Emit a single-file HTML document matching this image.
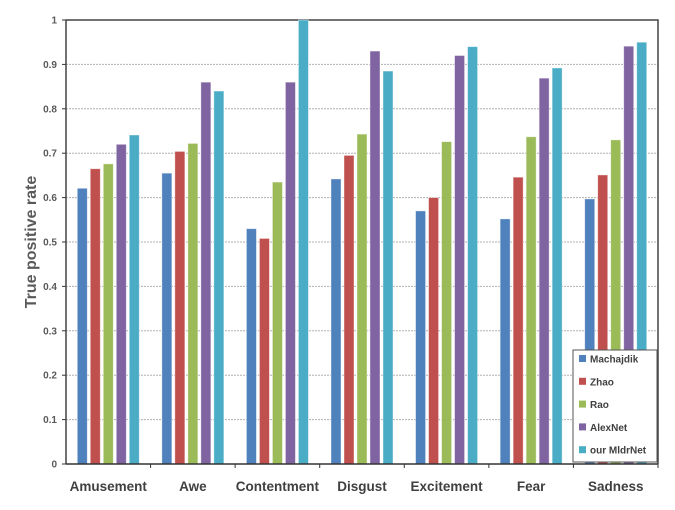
<!DOCTYPE html>
<html><head><meta charset="utf-8"><style>
body{margin:0;background:#fff;}
svg{display:block;font-family:"Liberation Sans",sans-serif;}
</style></head><body>
<svg id="chart" width="675" height="510" viewBox="0 0 675 510"></svg>
<script>
const categories=["Amusement","Awe","Contentment","Disgust","Excitement","Fear","Sadness"];
const seriesNames=["Machajdik","Zhao","Rao","AlexNet","our MldrNet"];
const machajdik=[0.621,0.655,0.530,0.642,0.570,0.552,0.597];
const zhao=[0.665,0.704,0.508,0.695,0.600,0.646,0.651];
const rao=[0.676,0.722,0.635,0.743,0.726,0.737,0.730];
const alexnet=[0.720,0.860,0.860,0.930,0.920,0.869,0.941];
const mldrnet=[0.741,0.840,1.000,0.885,0.940,0.892,0.950];
const yTicks=[0,0.1,0.2,0.3,0.4,0.5,0.6,0.7,0.8,0.9,1];
const yTickLabels=["0","0.1","0.2","0.3","0.4","0.5","0.6","0.7","0.8","0.9","1"];

const series=[machajdik,zhao,rao,alexnet,mldrnet];
const colors=["#4f81bd","#c0504d","#9bbb59","#8064a2","#4bacc6"];
const NS="http://www.w3.org/2000/svg";
const svg=document.getElementById("chart");
const L=66,R=658,T=20,B=464;
const y=v=>B-(v-0)/(1-0)*(B-T);
const gw=(R-L)/categories.length;
const x=i=>L+gw*(i+0.5);
function mk(tag,attrs,parent){const e=document.createElementNS(NS,tag);for(const k in attrs)e.setAttribute(k,attrs[k]);(parent||svg).appendChild(e);return e;}

yTicks.forEach((t,i)=>{
  if(t>0&&t<1){const g=mk("line",{x1:L,x2:R,y1:y(t),y2:y(t),stroke:"#b0b0b0","stroke-dasharray":"2,1"});
  
  }
  const tk=mk("line",{x1:L-4,x2:L,y1:y(t),y2:y(t),stroke:"#333"});
  
  
  const lb=mk("text",{x:L-9,y:y(t)+3.5,"text-anchor":"end","font-size":"10","font-weight":"bold",fill:"#595959"});
  lb.textContent=yTickLabels[i];
  
  
});
const frame=mk("path",{d:`M${L},${B}V${T}H${R}V${B}`,fill:"none",stroke:"#444","stroke-width":"1.5"});



const bw=10,pitch=13;
categories.forEach((c,i)=>{
  series.forEach((s,j)=>{
    const bx=x(i)+(j-2)*pitch-bw/2;
    const r=mk("rect",{x:bx,y:y(s[i]),width:bw,height:B-y(s[i]),fill:colors[j],stroke:"#fff","stroke-opacity":"0.5","stroke-width":"0.8"});
    
    
  });
  const tk=mk("line",{x1:L+gw*(i+1),x2:L+gw*(i+1),y1:B,y2:B+4,stroke:"#333"});
  
  
  const lb=mk("text",{x:x(i),y:491,"text-anchor":"middle","font-size":"13.5","font-weight":"bold",fill:"#404040"});
  lb.textContent=c;
  
  
});
const xa=mk("line",{x1:L,x2:R,y1:B,y2:B,stroke:"#333","stroke-width":"1.5"});



const yt=mk("text",{x:36,y:242,"text-anchor":"middle","font-size":"16","font-weight":"bold",fill:"#595959",transform:"rotate(-90 36 242)"});
yt.textContent="True positive rate";



const lg=mk("g",{});


const lbx=mk("rect",{x:573,y:350,width:84,height:112,fill:"#fff",stroke:"#555"},lg);


seriesNames.forEach((n,j)=>{
  const yy=359+j*22.8;
  const sw=mk("rect",{x:579,y:yy-4,width:7,height:7,fill:colors[j]},lg);
  
  
  const t=mk("text",{x:590,y:yy+3.5,"font-size":"10","font-weight":"bold",fill:"#404040"},lg);
  t.textContent=n;
  
  
});
</script>
</body></html>
